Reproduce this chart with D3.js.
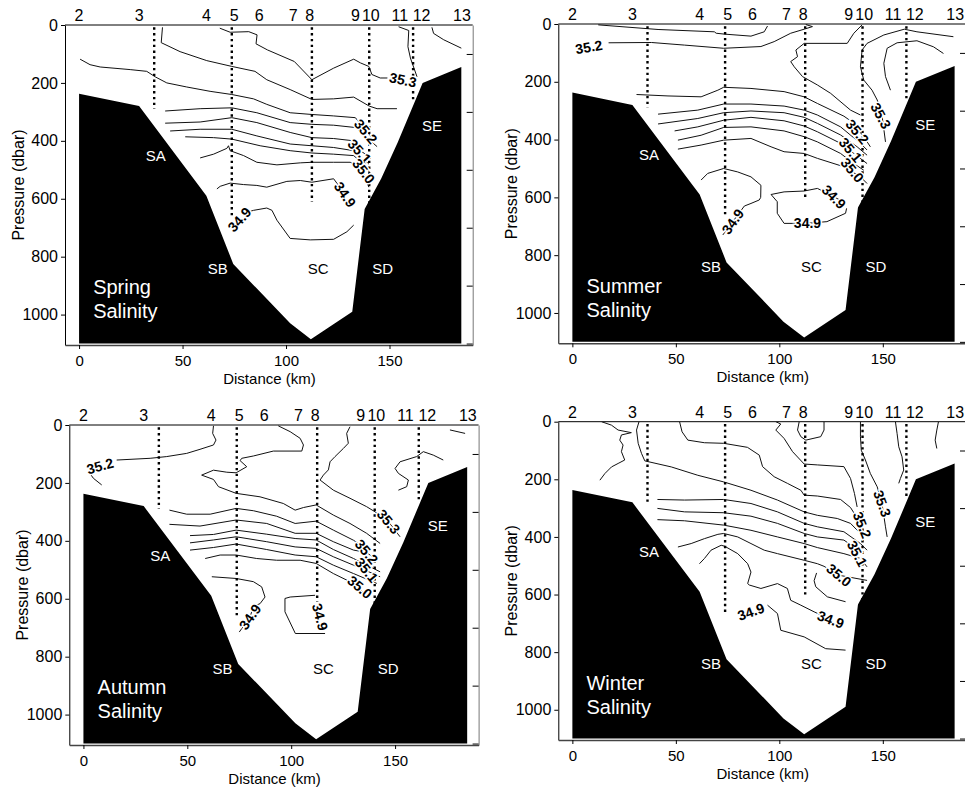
<!DOCTYPE html>
<html>
<head>
<meta charset="utf-8">
<script src="https://cdn.jsdelivr.net/npm/d3@7"></script>
<style>
body { margin: 0; background: #fff; }
svg text { font-family: "Liberation Sans", Arial, Helvetica, sans-serif; }
</style>
</head>
<body>
<div id="vis"></div>
<script>
// ---- shared data ----
var stationNames = ["2", "3", "4", "5", "6", "7", "8", "9", "10", "11", "12", "13"];
var stationKm = [0, 29, 61.5, 75, 87, 103.5, 111.5, 133.5, 141, 155, 165.5, 185];

var castKm = [36.3, 73.8, 112.5, 140.2, 161.4];
var castDepth = [290, 665, 610, 663, 268];

var bottomKm = [0, 29, 61.5, 74.5, 102, 112, 132, 138, 146, 154, 166, 184.7, 184.7, 0];
var bottomDbar = [237, 280, 590, 825, 1030, 1085, 990, 635, 530, 405, 200, 145, 1100, 1100];

var regionNames = ["SA", "SB", "SC", "SD", "SE"];
var regionKm = [37, 67, 115.5, 146.7, 170.5];
var regionDbar = [452, 840, 840, 840, 348];

var leftTicks = [0, 200, 400, 600, 800, 1000];
var rightTicks = [100, 300, 500, 700, 900, 1100];
var bottomTicks = [0, 50, 100, 150];

// ---- contours (km, dbar) per season ----
var springLines = [
  [[68,11],[73,25],[82,23],[86,34],[85.5,65],[91,86],[104,126],[112.5,189],[123,149],[132.7,118],[136,131],[140,143],[141.5,171],[145.5,183],[149,183]],
  [[40.3,8],[39.7,61],[48.8,92],[61.7,123],[73.8,143],[85,160],[90.7,189],[102,223],[112.5,257],[123,255],[132.7,249],[140.2,280],[144,289],[153.6,289]],
  [[0.5,118],[5.3,137],[10.2,145],[24.7,154],[32.7,160],[36.8,179],[42.4,200],[52,214],[63.3,229],[73.8,240],[84.3,255],[90.7,274],[102,303],[112.5,309],[123,314],[133.5,320],[138,360],[143,400]],
  [[41.6,297],[58.5,289],[73.8,286],[85.9,303],[102,337],[112.5,343],[123,346],[133.5,354],[140,395],[144,420]],
  [[41.6,339],[58.5,335],[73.8,320],[85.9,337],[102,371],[112.5,389],[123,392],[132.7,400],[136,434],[141,460]],
  [[44,366],[58.5,360],[73.8,360],[85.9,383],[102,411],[112.5,417],[123,423],[132.7,434],[140,480]],
  [[51.3,386],[65,389],[73.8,394],[87.5,417],[102,434],[112.5,442],[123,446],[132.7,451],[139,490],[141,520]],
  [[58.5,459],[65,446],[71.4,426],[72.2,417],[73,434],[79.5,451],[85.9,474],[95.6,483],[106.9,476],[112.5,474],[123,474],[131,474],[135.9,491],[138,520],[140,560]],
  [[66.6,566],[68.2,557],[73,546],[79.5,551],[85.9,554],[90.7,560],[100.4,540],[106.9,537],[112.5,543],[123,531],[126,560],[129,590]],
  [[80.5,648],[84.3,640],[90.7,632],[93.2,640],[95.6,674],[102,737],[111.7,742],[123,740],[129.4,714],[132.7,691]],
  [[154.4,6],[159.3,19],[158.9,75],[160.1,114],[163.3,179]],
  [[170.5,8],[171.3,29],[176.2,51],[184.7,80]]
];
var springLabels = [
  ["35.3", 156.5, 190, 12], ["35.2", 138.5, 368, 50], ["35.1", 135.5, 436, 48],
  ["35.0", 137.5, 505, 52], ["34.9", 128.5, 586, 55], ["34.9", 77.5, 672, -48]
];

var summerLines = [
  [[12.5,3],[41.4,19],[68.6,27],[69.5,32],[73.5,35],[86.3,42],[92.7,27],[94.3,7]],
  [[17.5,65],[38.2,64],[54.2,73],[73.1,84],[91.1,78],[97.5,61],[105.5,32],[112,18],[116,9],[112.8,2]],
  [[140,3],[136,32],[132.8,67],[112,67],[108,90],[108.8,113],[105.5,130],[107.2,148],[111.2,182],[118.4,211],[124.8,240],[134.4,298],[139.2,315]],
  [[184.1,44],[166.5,27],[160.4,18],[150.5,38],[142.4,67],[140,90],[139.2,148],[140.8,194],[144.8,229],[147.3,263],[149.6,315],[151.3,408]],
  [[153.7,229],[151.3,182],[150.5,136],[152.1,84],[156.9,65],[166.5,58],[174.5,79],[179.3,102]],
  [[31,244],[46.2,249],[62.2,252],[70.3,229],[73.1,219],[86.3,223],[102.3,234],[112,252],[118.4,275],[131.2,319],[134.4,335],[140.8,390],[144,425]],
  [[41.4,312],[60.6,298],[73.1,277],[86.3,277],[102.3,284],[112,298],[118.4,315],[129.6,356],[139.2,413],[142.4,436]],
  [[41.4,346],[60.6,327],[73.1,307],[86.3,301],[102.3,307],[112,323],[118.4,344],[129.6,384],[137.6,425],[142.4,454]],
  [[49.4,370],[60.6,356],[73.1,333],[86.3,323],[102.3,335],[112,353],[118.4,373],[129.6,413],[136,448],[142.4,483]],
  [[51,402],[62.2,385],[73.1,358],[86.3,356],[102.3,370],[112,390],[118.4,408],[129.6,448],[136,483],[140.8,506]],
  [[51,433],[62.2,419],[73.1,402],[86.3,396],[96,425],[102.3,442],[112,448],[118.4,465],[131.2,494],[139.2,529],[142.4,552]],
  [[62.2,540],[65.4,517],[73.1,500],[79.9,512],[86.3,529],[91.1,558],[91,600],[90.3,609],[86.3,621],[83.1,630],[77.5,684],[72.7,730]],
  [[130,612],[126.4,598],[118.4,569],[112,578],[102.3,581],[96,590],[99,615],[99,655],[102.3,690],[113,690],[123,684],[132,655],[132.5,638]]
];
var summerLabels = [
  ["35.2", 8, 80, -10], ["35.3", 149, 318, 62], ["35.2", 137.6, 373, 50],
  ["35.1", 134.4, 436, 50], ["35.0", 135.2, 506, 50], ["34.9", 126.4, 598, 45],
  ["34.9", 77.5, 684, -55], ["34.9", 113.6, 688, 0]
];

var autumnLines = [
  [[16,121],[32.1,115],[40.1,109],[49.7,98],[56.1,84],[62.6,69],[63.8,52],[62.2,29],[62.6,3]],
  [[2.9,165],[4.8,184],[8.8,207]],
  [[93.8,3],[99.5,23],[104.3,46],[105.9,69],[105.1,90],[91.4,90],[81.8,107],[76.2,115],[75.4,123],[78.6,144],[73.5,165],[69,163],[62.6,156],[56.9,173],[62.6,188],[65,213],[73.5,236],[85,248],[96.2,271],[101.9,294],[105.9,285],[112,276],[120.3,311],[128.3,340],[136.3,374],[142.8,409]],
  [[128.3,6],[126.7,29],[127.5,63],[125.1,81],[121.1,109],[118.7,127],[117.9,155],[115.5,173],[113.9,190],[120.3,225],[128.3,253],[136.3,282],[140.4,300],[146.8,334],[152.4,386]],
  [[41.4,294],[49.7,308],[61,308],[73.5,288],[81.8,296],[93,315],[101.9,340],[112,332],[120.3,363],[130,398],[134.7,420]],
  [[41.4,343],[56.1,349],[73.5,328],[88.2,340],[101.9,374],[112,374],[120.3,403],[130,432],[136.3,440],[141.2,467]],
  [[51.3,382],[62.6,378],[73.5,363],[88.2,377],[101.9,392],[112,397],[120.3,430],[130,461],[142.8,507]],
  [[51.3,407],[62.6,397],[73.5,386],[88.2,403],[101.9,421],[112,426],[120.3,455],[130,484],[142.8,524]],
  [[51.3,432],[62.6,423],[73.5,411],[88.2,430],[101.9,449],[112,455],[120.3,484],[130,513],[141.2,547]],
  [[58.6,461],[65.8,449],[73.5,449],[83.4,461],[93,467],[104.3,467],[112,478],[120.3,513],[130,547],[133.1,570],[138,590]],
  [[61.8,524],[73.5,530],[81.8,541],[85.8,559],[87.4,594],[85,617],[81.8,626],[80.2,663],[75,715]],
  [[116.3,720],[102,720],[97,645],[97,599],[99.5,594],[111.5,588]],
  [[151.6,225],[155.6,213],[156.4,190],[151.6,167],[150,150],[152.4,127],[160.4,109],[163.6,92],[168.4,104],[173.2,121]],
  [[176.4,17],[183.7,29]]
];
var autumnLabels = [
  ["35.2", 8, 142, -15], ["35.3", 146.8, 334, 50], ["35.2", 136.3, 438, 50],
  ["35.1", 136.3, 501, 50], ["35.0", 133, 560, 40], ["34.9", 80.2, 663, -55],
  ["34.9", 113.9, 663, 75]
];

var winterLines = [
  [[14.1,0],[18.9,12],[22.1,29],[28.5,38],[23.7,46],[22.9,64],[24.5,81],[23.7,104],[25.3,133],[22.1,145],[18.9,157],[15.7,180],[13.3,203]],
  [[32.2,0],[31,29],[31.8,75],[33.4,110],[35,136],[47.8,157],[60.6,186],[73.1,209],[86.3,238],[99.1,272],[112,313],[118.4,325],[128,336],[134.4,353],[140.8,400]],
  [[51.8,0],[53,35],[55.8,64],[63.8,73],[73.1,75],[84.6,89],[90.3,116],[91.9,156],[97.5,191],[103.9,214],[110.4,238],[112,255],[118.4,258],[129.6,270],[134.4,298],[136.8,325]],
  [[98.3,0],[100.7,8],[98.3,29],[102.3,58],[106.4,104],[112,147],[118.4,150],[131.2,156],[134.4,197],[136.3,249],[137.6,296]],
  [[139.2,0],[139.2,52],[139.6,99],[141.6,133],[144,180],[147.3,226],[149.6,284],[151.3,365],[152.1,400]],
  [[41.1,270],[54.2,272],[73.1,270],[86.3,284],[99.1,313],[112,353],[118.4,365],[131.2,382],[139.2,423],[142.4,446]],
  [[41.1,301],[54.2,313],[73.1,316],[86.3,328],[99.1,353],[112,388],[118.4,400],[131.2,411],[136,435]],
  [[41.1,340],[54.2,344],[73.1,359],[86.3,377],[99.1,400],[112,423],[118.4,437],[131.2,458],[139.2,475],[142.4,504]],
  [[51,435],[57.4,423],[63.8,406],[70.3,391],[73.1,388],[79.9,400],[86.3,423],[92.7,446],[99.1,458],[112,481],[118.4,493],[121.6,502],[128.8,533],[142.4,551]],
  [[61.4,493],[63.8,475],[67,446],[71.9,429],[73.5,432],[79.9,458],[84.7,493],[86.3,522],[84.7,562],[85.5,567],[91.1,579],[99.1,562],[103.9,579],[105.5,620],[110.4,637],[116.8,660],[124.8,687]],
  [[94.3,637],[99.1,666],[100.7,724],[112,747],[122.4,788],[132,793]],
  [[118,525],[116.8,552],[117.6,573],[123.2,608],[132,625]],
  [[109.6,0],[108.8,29],[110.4,52],[112.8,64],[120,52],[121.6,29],[121.6,0]],
  [[156.1,0],[156.9,41],[157.7,87],[159.3,122],[160.1,168],[158.5,197],[157.7,214]],
  [[176.9,0],[176.1,29],[175.3,64],[176.1,93]]
];
var winterLabels = [
  ["35.3", 149.7, 284, 70], ["35.2", 140, 359, 68], ["35.1", 137.6, 458, 62],
  ["35.0", 128.8, 533, 40], ["34.9", 124.8, 687, 20], ["34.9", 86.3, 660, -20]
];

var xDomain = [-6.8, 190.2];
var yDomain = [0, 1105];

var svg = d3.select("#vis")
    .append("svg")
    .attr("width", 965)
    .attr("height", 787);

var panels = [
  {name: "Spring", lines: springLines, labels: springLabels, left: 65, right: 472.7, top: 25, bottom: 345},
  {name: "Summer", lines: summerLines, labels: summerLabels, left: 558.3, right: 966, top: 24, bottom: 343.3},
  {name: "Autumn", lines: autumnLines, labels: autumnLabels, left: 69.3, right: 478.6, top: 425, bottom: 745},
  {name: "Winter", lines: winterLines, labels: winterLabels, left: 558.3, right: 966, top: 421.7, bottom: 740}
];

panels.forEach(drawPanel);

function drawPanel(p) {
    var x = d3.scaleLinear().domain(xDomain).range([p.left, p.right]);
    var y = d3.scaleLinear().domain(yDomain).range([p.top, p.bottom]);
    var g = svg.append("g");

    var clipId = "clip" + p.name;
    svg.append("clipPath").attr("id", clipId)
        .append("rect")
        .attr("x", p.left).attr("y", p.top)
        .attr("width", p.right - p.left).attr("height", p.bottom - p.top);

    var plot = g.append("g").attr("clip-path", "url(#" + clipId + ")");

    var line = d3.line()
        .x(function(d) { return x(d[0]); })
        .y(function(d) { return y(d[1]); });

    // contour lines
    plot.selectAll(".contour")
        .data(p.lines)
        .enter()
        .append("path")
        .attr("class", "contour")
        .attr("d", line)
        .attr("fill", "none")
        .attr("stroke", "#111")
        .attr("stroke-width", 1);

    // CTD casts (dotted)
    plot.selectAll(".cast")
        .data(castKm)
        .enter()
        .append("line")
        .attr("x1", function(d) { return x(d); })
        .attr("x2", function(d) { return x(d); })
        .attr("y1", y(8))
        .attr("y2", function(d, i) { return y(castDepth[i]); })
        .attr("stroke", "#000")
        .attr("stroke-width", 2.4)
        .attr("stroke-dasharray", "2.4,3.4");

    // bathymetry
    var bottom = bottomKm.map(function(d, i) { return [d, bottomDbar[i]]; });
    plot.append("path")
        .attr("d", line(bottom) + "Z")
        .attr("fill", "#000");

    // contour labels
    plot.selectAll(".clabel")
        .data(p.labels)
        .enter()
        .append("text")
        .attr("transform", function(d) {
            return "translate(" + x(d[1]) + "," + y(d[2]) + ") rotate(" + d[3] + ")";
        })
        .attr("text-anchor", "middle")
        .attr("dy", "0.35em")
        .attr("font-size", 14)
        .attr("font-weight", "bold")
        .attr("fill", "#000")
        .attr("stroke", "#fff")
        .attr("stroke-width", 3)
        .attr("paint-order", "stroke")
        .text(function(d) { return d[0]; });

    // region names
    plot.selectAll(".region")
        .data(regionNames)
        .enter()
        .append("text")
        .attr("x", function(d, i) { return x(regionKm[i]); })
        .attr("y", function(d, i) { return y(regionDbar[i]); })
        .attr("dy", "0.35em")
        .attr("text-anchor", "middle")
        .attr("font-size", 15)
        .attr("fill", function(d) { return d === "SC" ? "#000" : "#fff"; })
        .text(function(d) { return d; });

    // season title
    var title = plot.append("text")
        .attr("x", x(6.8))
        .attr("y", y(930))
        .attr("font-size", 20)
        .attr("fill", "#fff");
    title.append("tspan").attr("x", x(6.8)).text(p.name);
    title.append("tspan").attr("x", x(6.8)).attr("dy", 24).text("Salinity");

    // frame
    g.append("line")
        .attr("x1", p.left).attr("x2", p.right)
        .attr("y1", p.top).attr("y2", p.top)
        .attr("stroke", "#000");

    var yaxis = d3.axisLeft(y).tickValues(leftTicks).tickSize(4).tickSizeOuter(0).tickPadding(3)
        .tickFormat(d3.format("d"));
    var ax = g.append("g")
        .attr("transform", "translate(" + p.left + ",0)")
        .call(yaxis);
    ax.attr("font-family", null);
    ax.selectAll("text").attr("font-size", 16).attr("fill", "#000");
    ax.select(".domain").attr("stroke", "#000");

    var raxis = d3.axisLeft(y).tickValues(rightTicks).tickSize(6).tickSizeOuter(0).tickFormat("");
    var rx = g.append("g")
        .attr("transform", "translate(" + p.right + ",0)")
        .call(raxis);
    rx.select(".domain").attr("stroke", "#777");

    var xaxis = d3.axisBottom(x).tickValues(bottomTicks).tickSize(4).tickSizeOuter(0).tickPadding(6);
    var bx = g.append("g")
        .attr("transform", "translate(0," + p.bottom + ")")
        .call(xaxis);
    bx.attr("font-family", null);
    bx.selectAll("text").attr("font-size", 15).attr("fill", "#000");
    bx.select(".domain").attr("stroke", "#444").attr("stroke-width", 1.5);

    // station numbers on top
    g.selectAll(".station")
        .data(stationNames)
        .enter()
        .append("text")
        .attr("x", function(d, i) { return x(stationKm[i]); })
        .attr("y", p.top - 4)
        .attr("text-anchor", "middle")
        .attr("font-size", 16)
        .text(function(d) { return d; });

    // axis titles
    g.append("text")
        .attr("x", x(92))
        .attr("y", p.bottom + 39)
        .attr("text-anchor", "middle")
        .attr("font-size", 15)
        .text("Distance (km)");

    g.append("text")
        .attr("transform", "translate(" + (p.left - 47) + "," + ((p.top + p.bottom) / 2) + ") rotate(-90)")
        .attr("text-anchor", "middle")
        .attr("dy", "0.35em")
        .attr("font-size", 16)
        .text("Pressure (dbar)");
}
</script>
</body>
</html>
